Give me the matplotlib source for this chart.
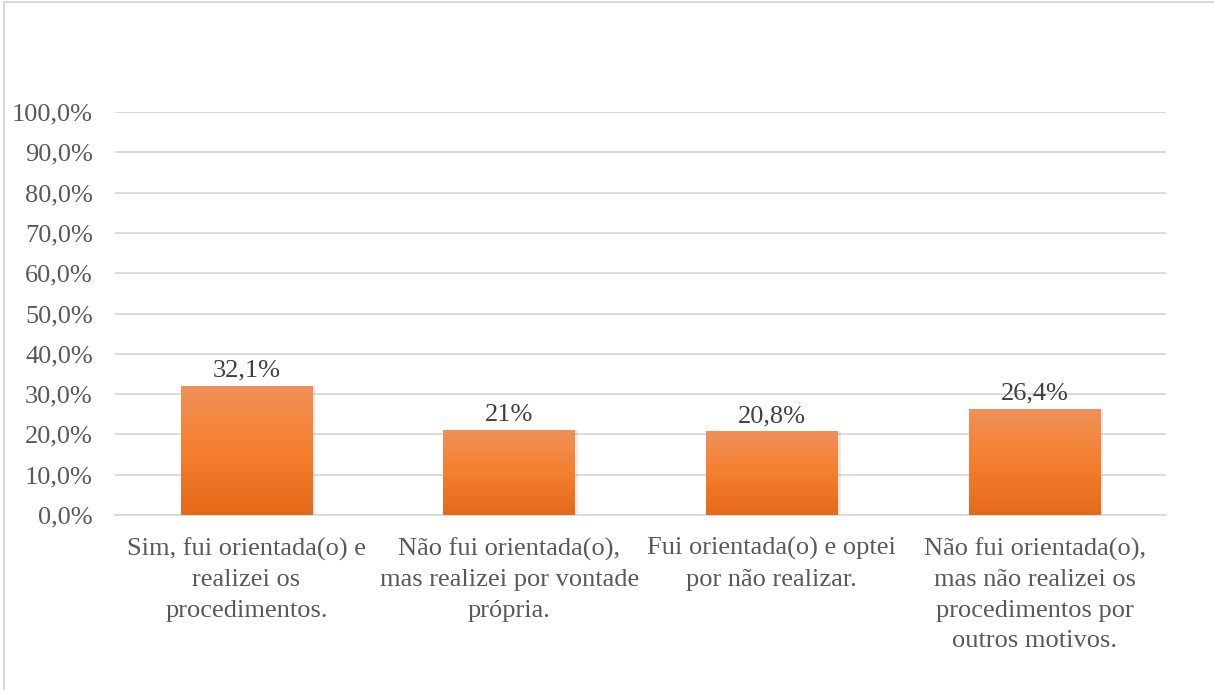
import numpy as np
import matplotlib
matplotlib.use('Agg')
import matplotlib.pyplot as plt
from matplotlib.colors import LinearSegmentedColormap
from matplotlib.ticker import FuncFormatter, MultipleLocator

# Dados
categorias = [
    'Sim, fui orientada(o) e\nrealizei os\nprocedimentos.',
    'Não fui orientada(o),\nmas realizei por vontade\nprópria.',
    'Fui orientada(o) e optei\npor não realizar.',
    'Não fui orientada(o),\nmas não realizei os\nprocedimentos por\noutros motivos.',
]
valores = [32.1, 21.0, 20.8, 26.4]
rotulos = ['32,1%', '21%', '20,8%', '26,4%']

plt.rcParams['font.family'] = ['Liberation Serif', 'DejaVu Serif']

fig = plt.figure(figsize=(12.14, 6.9), dpi=100)
ax = fig.add_axes([115 / 1214, 1 - 515 / 690, (1166 - 115) / 1214, (515 - 112) / 690])

# moldura (apenas topo e esquerda visíveis)
fig.add_artist(plt.Line2D([4 / 1214, 4 / 1214], [0, 1 - 2 / 690], color='#d9d9d9', lw=1.5))
fig.add_artist(plt.Line2D([4 / 1214, 1], [1 - 2 / 690, 1 - 2 / 690], color='#d9d9d9', lw=1.5))

cmap = LinearSegmentedColormap.from_list('laranja', ['#e46a1a', '#f47f2f', '#f0915a'])
grad = np.linspace(0, 1, 256).reshape(-1, 1)

x = np.arange(len(categorias))
barras = ax.bar(x, valores, width=0.5, color='#f47f2f', zorder=3)
for b, v, r in zip(barras, valores, rotulos):
    # sombra leve
    ax.bar(b.get_x() + b.get_width() / 2 + 0.012, v, width=0.5, color='#000000', alpha=0.08, zorder=2)
    im = ax.imshow(grad, cmap=cmap, aspect='auto', origin='lower',
                   extent=[b.get_x(), b.get_x() + b.get_width(), 0, v], zorder=4)
    im.set_clip_path(b)
    ax.text(b.get_x() + b.get_width() / 2, v + 1.0, r, ha='center', va='bottom',
            fontsize=19, color='#404040', zorder=5)

ax.set_xlim(-0.5, len(categorias) - 0.5)
ax.set_ylim(0, 100)
ax.yaxis.set_major_locator(MultipleLocator(10))
ax.yaxis.set_major_formatter(FuncFormatter(lambda v, p: f'{v:.1f}'.replace('.', ',') + '%'))
ax.grid(axis='y', color='#d9d9d9', lw=1.3, zorder=0)
ax.set_axisbelow(True)
for s in ['top', 'right', 'left']:
    ax.spines[s].set_visible(False)
ax.spines['bottom'].set_color('#d9d9d9')
ax.spines['bottom'].set_linewidth(1.3)
ax.tick_params(axis='y', length=0, labelsize=19, labelcolor='#595959', pad=16)
ax.tick_params(axis='x', length=0, labelsize=19, labelcolor='#595959', pad=16)
ax.set_xticks(x)
ax.set_xticklabels(categorias, linespacing=1.5)

fig.savefig('out.png', dpi=100)
